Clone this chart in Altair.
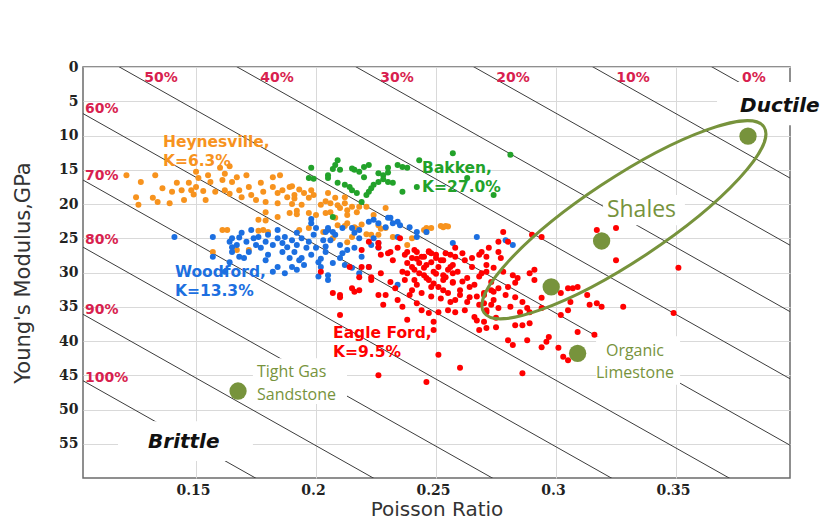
import altair as alt
import pandas as pd

# ---------------- data (Poisson ratio, Young's modulus GPa)
heynesville = [
    (0.121, 15.8), (0.133, 15.8), (0.127, 16.8), (0.125, 19.0), (0.126, 20.1), (0.132, 19.1), (0.134, 19.7),
    (0.139, 19.9), (0.136, 17.7), (0.140, 18.2), (0.142, 16.9), (0.144, 18.0), (0.145, 19.4), (0.147, 16.9),
    (0.148, 18.0), (0.149, 18.6), (0.150, 15.3), (0.151, 16.2), (0.150, 17.5), (0.153, 18.1), (0.154, 19.4),
    (0.155, 15.8), (0.156, 16.8), (0.158, 18.2), (0.160, 14.7), (0.161, 16.5), (0.162, 15.6), (0.164, 14.5),
    (0.162, 18.0), (0.164, 18.5), (0.165, 16.8), (0.167, 16.1), (0.168, 18.0), (0.169, 19.0), (0.171, 15.8),
    (0.172, 17.5), (0.173, 18.7), (0.175, 19.4), (0.177, 16.9), (0.178, 18.2), (0.179, 19.7), (0.182, 16.1),
    (0.182, 17.5), (0.184, 18.4), (0.185, 15.8), (0.184, 19.9), (0.186, 18.0), (0.188, 19.0), (0.189, 17.5),
    (0.190, 20.0), (0.189, 21.3), (0.179, 21.2), (0.184, 21.9), (0.176, 22.3), (0.179, 22.4), (0.161, 23.8),
    (0.163, 23.8), (0.176, 23.9), (0.178, 23.8), (0.191, 18.7), (0.192, 21.0), (0.157, 27.0), (0.167, 26.7),
    (0.180, 24.1), (0.172, 26.7), (0.190, 17.4), (0.193, 17.9), (0.191, 19.2), (0.195, 18.4), (0.197, 19.1),
    (0.198, 18.0), (0.199, 18.7), (0.194, 20.1), (0.192, 21.5), (0.197, 21.3), (0.202, 20.1), (0.204, 19.6),
    (0.205, 18.4), (0.206, 19.9), (0.208, 19.1), (0.209, 20.2), (0.210, 20.6), (0.212, 19.9), (0.213, 20.9),
    (0.215, 20.4), (0.217, 21.2), (0.218, 20.4), (0.221, 20.4), (0.212, 19.0), (0.206, 21.2), (0.200, 21.6),
    (0.224, 21.6), (0.229, 20.6), (0.209, 23.1), (0.213, 22.8), (0.216, 23.4), (0.226, 23.1), (0.193, 23.8),
    (0.197, 23.5), (0.229, 23.5), (0.246, 23.5), (0.248, 23.5), (0.223, 24.5), (0.204, 21.3), (0.208, 22.0),
    (0.213, 21.6), (0.212, 23.2), (0.217, 23.6), (0.215, 24.8), (0.219, 23.0), (0.221, 24.4), (0.226, 24.5),
    (0.227, 23.6), (0.246, 24.1), (0.253, 23.4), (0.255, 23.3), (0.240, 25.0), (0.238, 26.0), (0.203, 24.1),
    (0.207, 25.0), (0.213, 25.6), (0.232, 24.8), (0.245, 23.8), (0.252, 23.2), (0.254, 23.2),
]

bakken = [
    (0.198, 14.7), (0.209, 13.6), (0.208, 14.3), (0.207, 14.9), (0.210, 15.0), (0.205, 15.8), (0.216, 15.0),
    (0.218, 15.3), (0.222, 14.3), (0.220, 16.1), (0.226, 15.5), (0.228, 15.8), (0.230, 15.4), (0.230, 14.7),
    (0.230, 16.8), (0.232, 16.9), (0.228, 16.4), (0.226, 16.8), (0.224, 17.2), (0.223, 17.7), (0.222, 18.2),
    (0.221, 18.7), (0.197, 16.2), (0.199, 16.3), (0.209, 16.9), (0.212, 17.2), (0.214, 17.5), (0.215, 18.0),
    (0.217, 18.4), (0.219, 19.7), (0.236, 14.6), (0.238, 14.7), (0.236, 18.2), (0.242, 17.5), (0.243, 13.6),
    (0.207, 21.9), (0.257, 12.6), (0.263, 16.2), (0.274, 18.7), (0.281, 12.8), (0.205, 16.2), (0.215, 14.8),
    (0.220, 14.6), (0.234, 14.3),
]

woodford = [
    (0.141, 24.8), (0.157, 24.8), (0.157, 27.7), (0.164, 25.5), (0.165, 26.3), (0.165, 25.0), (0.167, 26.0),
    (0.168, 24.9), (0.169, 24.2), (0.171, 25.5), (0.170, 27.9), (0.172, 27.0), (0.173, 23.8), (0.174, 25.0),
    (0.175, 26.0), (0.176, 24.8), (0.177, 26.4), (0.179, 25.5), (0.180, 24.5), (0.180, 27.4), (0.182, 26.0),
    (0.184, 23.8), (0.184, 25.0), (0.186, 27.0), (0.186, 25.7), (0.187, 24.8), (0.188, 26.3), (0.189, 27.9),
    (0.190, 25.3), (0.191, 27.0), (0.192, 24.2), (0.192, 26.0), (0.193, 28.2), (0.194, 25.0), (0.195, 28.9),
    (0.196, 26.4), (0.197, 25.5), (0.198, 27.4), (0.198, 22.8), (0.199, 24.5), (0.200, 26.4), (0.201, 28.5),
    (0.203, 25.3), (0.204, 27.0), (0.204, 24.1), (0.187, 30.1), (0.182, 29.9), (0.192, 29.6), (0.162, 29.9),
    (0.164, 28.5), (0.165, 27.0), (0.168, 27.7), (0.179, 28.2), (0.184, 29.2), (0.190, 29.2), (0.194, 27.9),
    (0.202, 29.2), (0.205, 31.1), (0.201, 30.6), (0.222, 22.6), (0.224, 22.3), (0.231, 22.0), (0.232, 22.8),
    (0.229, 23.4), (0.205, 23.8), (0.208, 24.5), (0.206, 25.3), (0.210, 26.0), (0.213, 26.7), (0.216, 26.4),
    (0.218, 25.0), (0.219, 27.7), (0.223, 26.0), (0.224, 25.0), (0.226, 25.7), (0.202, 28.0), (0.207, 28.6),
    (0.212, 28.9), (0.215, 29.3), (0.226, 26.4), (0.205, 30.4), (0.204, 26.2), (0.210, 27.9), (0.234, 24.8),
    (0.239, 23.4), (0.242, 24.8), (0.198, 22.2), (0.200, 23.5), (0.205, 23.5), (0.207, 24.1), (0.211, 23.5),
    (0.215, 23.5), (0.226, 22.8), (0.230, 22.0), (0.234, 22.6), (0.235, 23.1), (0.242, 24.1), (0.246, 24.1),
    (0.216, 24.2), (0.218, 23.8), (0.211, 27.2), (0.222, 29.2), (0.218, 30.1), (0.234, 31.8), (0.282, 26.0),
    (0.279, 25.3), (0.267, 24.8), (0.257, 25.7),
]

eagle_ford = [
    (0.219, 26.7), (0.222, 25.5), (0.226, 25.7), (0.227, 27.4), (0.222, 29.2), (0.219, 29.2), (0.218, 30.7),
    (0.223, 30.7), (0.227, 30.1), (0.231, 27.0), (0.232, 28.2), (0.234, 26.4), (0.235, 25.0), (0.238, 27.0),
    (0.238, 28.6), (0.236, 29.9), (0.237, 31.1), (0.231, 31.4), (0.233, 32.3), (0.240, 27.9), (0.241, 29.6),
    (0.242, 27.0), (0.243, 28.6), (0.244, 27.7), (0.245, 29.3), (0.246, 30.8), (0.247, 27.0), (0.248, 28.5),
    (0.249, 29.9), (0.250, 27.4), (0.251, 29.2), (0.253, 30.4), (0.253, 28.2), (0.255, 29.6), (0.256, 27.4),
    (0.257, 31.4), (0.257, 28.9), (0.258, 26.4), (0.242, 31.8), (0.248, 32.1), (0.253, 32.6), (0.202, 29.9),
    (0.207, 33.0), (0.210, 33.3), (0.215, 32.3), (0.218, 32.6), (0.226, 33.3), (0.223, 31.1), (0.214, 29.2),
    (0.226, 26.3), (0.230, 27.2), (0.240, 29.2), (0.242, 28.0), (0.243, 30.1), (0.246, 28.9), (0.247, 31.1),
    (0.248, 27.2), (0.250, 30.2), (0.251, 32.1), (0.252, 28.2), (0.254, 30.7), (0.255, 33.0), (0.256, 29.2),
    (0.257, 31.5), (0.258, 34.0), (0.259, 29.9), (0.260, 32.6), (0.262, 28.2), (0.263, 30.8), (0.264, 33.6),
    (0.265, 29.2), (0.266, 31.8), (0.268, 34.7), (0.269, 30.1), (0.270, 33.0), (0.271, 27.7), (0.271, 35.5),
    (0.273, 31.4), (0.274, 34.0), (0.275, 36.6), (0.234, 34.0), (0.236, 35.0), (0.239, 33.3), (0.242, 34.5),
    (0.244, 35.5), (0.247, 35.9), (0.251, 35.8), (0.255, 35.5), (0.258, 35.8), (0.262, 35.5), (0.266, 36.5),
    (0.228, 34.7), (0.229, 33.3), (0.216, 32.8), (0.210, 33.6), (0.238, 36.9), (0.249, 37.2), (0.249, 38.4),
    (0.251, 42.0), (0.260, 43.9), (0.226, 45.0), (0.246, 46.0), (0.267, 37.0), (0.268, 38.4), (0.271, 38.1),
    (0.317, 23.8), (0.325, 23.5), (0.325, 28.2), (0.276, 25.5), (0.280, 25.5), (0.269, 27.0), (0.272, 26.4),
    (0.276, 27.0), (0.277, 27.9), (0.271, 28.9), (0.274, 29.3), (0.278, 29.9), (0.282, 30.4), (0.284, 30.8),
    (0.289, 30.1), (0.291, 29.6), (0.291, 31.1), (0.283, 31.5), (0.280, 32.1), (0.276, 32.3), (0.274, 32.8),
    (0.270, 33.3), (0.279, 33.3), (0.283, 33.6), (0.286, 34.3), (0.288, 35.2), (0.289, 35.8), (0.285, 35.8),
    (0.281, 35.0), (0.276, 35.2), (0.273, 34.7), (0.271, 35.8), (0.270, 37.2), (0.275, 38.0), (0.283, 37.7),
    (0.286, 37.7), (0.289, 37.4), (0.294, 35.2), (0.294, 33.7), (0.298, 32.8), (0.302, 33.0), (0.305, 32.3),
    (0.307, 32.3), (0.309, 32.1), (0.313, 33.3), (0.314, 34.7), (0.317, 34.5), (0.319, 35.0), (0.328, 35.0),
    (0.306, 34.3), (0.302, 36.2), (0.305, 35.5), (0.309, 38.7), (0.316, 39.1), (0.297, 39.4), (0.296, 40.1),
    (0.294, 40.9), (0.288, 39.9), (0.280, 39.9), (0.282, 40.6), (0.301, 41.0), (0.303, 42.3), (0.305, 42.8),
    (0.286, 44.7), (0.278, 24.1), (0.351, 29.3), (0.349, 35.9), (0.210, 36.2), (0.290, 24.5), (0.294, 24.8),
    (0.237, 27.4), (0.241, 26.7), (0.245, 27.7), (0.247, 26.9), (0.250, 27.9), (0.254, 27.2), (0.258, 27.7),
    (0.261, 27.2), (0.265, 27.9), (0.268, 27.4), (0.238, 30.1), (0.241, 31.1), (0.245, 30.4), (0.249, 31.6),
    (0.253, 31.1), (0.257, 30.1), (0.261, 31.3), (0.264, 32.1), (0.268, 30.6), (0.271, 29.9), (0.240, 32.6),
    (0.244, 33.0), (0.248, 33.5), (0.252, 33.8), (0.256, 34.3), (0.260, 33.3), (0.263, 34.3), (0.267, 33.5),
    (0.270, 34.5), (0.273, 32.6),
]

# reference rock types (big olive dots)
rock_nu = [0.380, 0.319, 0.298, 0.309, 0.1675]
rock_E = [10.1, 25.4, 32.1, 41.8, 47.3]

# brittleness contour lines: label and E value at the left edge of the plot
brittle_pct = ["100%", "90%", "80%", "70%", "60%", "50%", "40%", "30%", "20%", "10%", "0%"]
brittle_E_left = [45.8, 36.1, 26.3, 16.5, 6.8, -3.0, -12.7, -22.5, -32.2, -42.0, -51.8]
brittle_slope = 197.6  # GPa per unit Poisson ratio
NU_MIN, NU_MAX = 0.1029, 0.3975

# contour labels
top_pct = ["50%", "40%", "30%", "20%", "10%", "0%"]
top_pct_nu = [0.1354, 0.1837, 0.2337, 0.2821, 0.3321, 0.3825]
left_pct = ["60%", "70%", "80%", "90%", "100%"]
left_pct_E = [6.1, 15.9, 25.3, 35.5, 45.4]

# ---------------- helpers
xscale = alt.Scale(domain=[NU_MIN, NU_MAX], nice=False, zero=False)
yscale = alt.Scale(domain=[0, 60], reverse=True, nice=False, zero=False)

xaxis = alt.Axis(values=[0.15, 0.2, 0.25, 0.3, 0.35], format=".2~f", title="Poisson Ratio",
                 grid=True, gridColor="#d9d9d9", gridWidth=1, domain=False, ticks=False,
                 labelFont="DejaVu Serif", labelFontWeight="bold", labelFontSize=14, labelColor="#222222",
                 labelPadding=5, labelOffset=-3,
                 titleFont="DejaVu Sans", titleFontSize=20, titleFontWeight="normal", titleColor="#333333",
                 titleX=353.5, titleY=37, titleBaseline="alphabetic", titleAlign="center")
yaxis = alt.Axis(values=list(range(0, 60, 5)), title="Young's Modulus,GPa",
                 grid=True, gridColor="#d9d9d9", gridWidth=1, domain=False, ticks=False,
                 labelFont="DejaVu Serif", labelFontWeight="bold", labelFontSize=14, labelColor="#222222",
                 labelPadding=5,
                 titleFont="DejaVu Sans", titleFontSize=21, titleFontWeight="normal", titleColor="#333333",
                 titleX=-54, titleY=205.5, titleAngle=270, titleBaseline="alphabetic", titleAlign="center")


def X(f="nu"):
    return alt.X(f, type="quantitative", scale=xscale, axis=xaxis)


def Y(f="E"):
    return alt.Y(f, type="quantitative", scale=yscale, axis=yaxis)


def pts(pairs):
    return pd.DataFrame(pairs, columns=["nu", "E"])


# ---------------- layers
line_rows = []
for p, e0 in zip(brittle_pct, brittle_E_left):
    for nu in (0.095, 0.405):
        line_rows.append({"pct": p, "nu": nu, "E": e0 + brittle_slope * (nu - NU_MIN)})
lines = alt.Chart(pd.DataFrame(line_rows)).mark_line(color="#3c3c3c", strokeWidth=1, clip=True).encode(
    x=X(), y=Y(), detail="pct:N")

boxes = pd.DataFrame({
    "name": ["Brittle", "Ductile", "Shales", "Tight", "Organic"],
    "nu": [0.1175, 0.3671, 0.3196, 0.1737, 0.3167],
    "nu2": [0.1737, 0.4108, 0.3537, 0.2129, 0.3517],
    "E": [51.7, 2.2, 18.7, 42.5, 39.3],
    "E2": [57.5, 8.5, 23.1, 49.2, 46.4],
})
box_layer = alt.Chart(boxes).mark_rect(color="white").encode(
    x=X(), x2="nu2", y=Y(), y2="E2")


def scatter(pairs, color):
    return alt.Chart(pts(pairs)).mark_circle(size=36, color=color, opacity=1).encode(x=X(), y=Y())


s_hey = scatter(heynesville, "#f7931e")
s_bak = scatter(bakken, "#22a22a")
s_woo = scatter(woodford, "#1c6fe0")
s_eag = scatter(eagle_ford, "#ff0000")

rocks = alt.Chart(pd.DataFrame({"nu": rock_nu, "E": rock_E})).mark_circle(
    size=300, color="#77933c", opacity=1).encode(x=X(), y=Y())

ELLIPSE = ("M -1 0 C -1 -0.1358 -0.5523 -0.246 0 -0.246 C 0.5523 -0.246 1 -0.1358 1 0 "
           "C 1 0.1358 0.5523 0.246 0 0.246 C -0.5523 0.246 -1 0.1358 -1 0 Z")
ellipse = alt.Chart(pd.DataFrame({"nu": [0.3283], "E": [22.3]})).mark_point(
    shape=ELLIPSE, size=112896, angle=326.5, filled=False, color="#77933c",
    strokeWidth=3, opacity=1).encode(x=X(), y=Y())

pct_df = pd.DataFrame({"label": top_pct, "nu": top_pct_nu, "E": [1.6] * len(top_pct)})
pct_top = alt.Chart(pct_df).mark_text(font="DejaVu Sans", fontWeight="bold", fontSize=14,
                                      color="#d81f4f", align="center", baseline="middle").encode(
    x=X(), y=Y(), text="label:N")
pct_l_df = pd.DataFrame({"label": left_pct, "nu": [0.1037] * len(left_pct), "E": left_pct_E})
pct_left = alt.Chart(pct_l_df).mark_text(font="DejaVu Sans", fontWeight="bold", fontSize=14,
                                         color="#d81f4f", align="left", baseline="middle").encode(
    x=X(), y=Y(), text="label:N")

clusters = pd.DataFrame({
    "label": ["Heynesville,\nK=6.3%", "Bakken,\nK=27.0%", "Woodford,\nK=13.3%", "Eagle Ford,\nK=9.5%"],
    "nu": [0.1362, 0.2442, 0.1412, 0.2071],
    "E": [11.7, 15.5, 30.7, 39.6],
    "color": ["#f7931e", "#22a22a", "#1c6fe0", "#ff0000"],
})
cluster_text = alt.Chart(clusters).mark_text(font="DejaVu Sans", fontWeight="bold", fontSize=15.5,
                                             align="left", baseline="alphabetic", lineBreak="\n",
                                             lineHeight=18.5).encode(
    x=X(), y=Y(), text="label:N", color=alt.Color("color:N", scale=None))

shales = alt.Chart(pd.DataFrame({"label": ["Shales"], "nu": [0.3212], "E": [21.9]})).mark_text(
    font="Open Sans", fontSize=23, color="#77933c", align="left", baseline="alphabetic").encode(
    x=X(), y=Y(), text="label:N")
tight = alt.Chart(pd.DataFrame({"label": ["Tight Gas\nSandstone"], "nu": [0.1754], "E": [45.3]})).mark_text(
    font="Open Sans", fontSize=16, color="#77933c", align="left", baseline="alphabetic",
    lineBreak="\n", lineHeight=23).encode(x=X(), y=Y(), text="label:N")
organic = alt.Chart(pd.DataFrame({"label": ["Organic\nLimestone"], "nu": [0.3329], "E": [42.2]})).mark_text(
    font="Open Sans", fontSize=16, color="#77933c", align="center", baseline="alphabetic",
    lineBreak="\n", lineHeight=22).encode(x=X(), y=Y(), text="label:N")

regime = alt.Chart(pd.DataFrame({"label": ["Brittle", "Ductile"], "nu": [0.1300, 0.3767],
                                 "E": [55.6, 6.6]})).mark_text(
    font="DejaVu Sans", fontSize=20, fontWeight="bold", fontStyle="italic", color="#111111",
    align="left", baseline="alphabetic").encode(x=X(), y=Y(), text="label:N")

chart = alt.layer(
    lines, box_layer, s_hey, s_bak, s_woo, s_eag, rocks, ellipse,
    pct_top, pct_left, cluster_text, shales, tight, organic, regime,
).properties(
    width=707, height=411,
    autosize=alt.AutoSizeParams(type="none"),
    padding={"left": 75, "top": 59, "right": 32, "bottom": 42},
).configure_view(stroke="#6b6b6b", strokeWidth=1.5)

chart.save("out.html", embed_options={"renderer": "svg", "actions": False})
